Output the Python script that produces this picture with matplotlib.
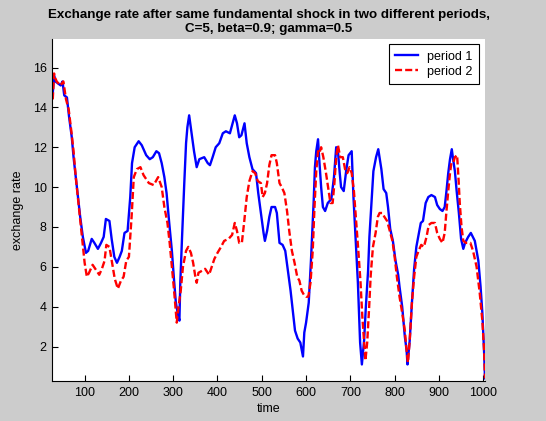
import matplotlib
matplotlib.use("Agg")
import matplotlib.pyplot as plt

# values
t_period1 = [28, 31, 34, 40, 46, 50, 54, 60, 65, 71, 75, 80, 84, 90, 96, 103, 108, 116, 122, 130,
             137, 143, 148, 156, 161, 167, 173, 179, 184, 190, 197, 203, 207, 213, 222, 229, 239, 247, 254, 262,
             268, 274, 280, 285, 291, 297, 302, 306, 310, 314, 316, 320, 325, 329, 332, 336, 341, 347, 353, 359,
             370, 378, 383, 389, 396, 404, 412, 419, 428, 434, 439, 444, 449, 454, 461, 466, 472, 479, 487, 492,
             498, 504, 507, 512, 517, 522, 530, 534, 540, 547, 553, 559, 565, 570, 575, 581, 587, 593, 596, 600,
             606, 611, 617, 620, 623, 627, 630, 634, 638, 643, 649, 657, 663, 668, 672, 676, 679, 685, 691, 696,
             703, 707, 712, 717, 722, 726, 731, 735, 740, 743, 747, 752, 758, 763, 770, 775, 781, 785, 790, 796,
             802, 808, 811, 817, 823, 827, 829, 834, 839, 844, 849, 854, 859, 864, 870, 876, 883, 891, 896, 902,
             908, 913, 917, 921, 925, 929, 932, 936, 940, 945, 950, 955, 959, 966, 972, 981, 989, 994, 998, 1002,
             1004]
period1 = [14.7, 15.6, 15.3, 15.2, 15.1, 15.3, 14.6, 14.5, 13.5, 12.5, 11.5, 10.5, 9.7, 8.5, 7.5, 6.7, 6.8, 7.4, 7.2, 6.9,
           7.2, 7.5, 8.4, 8.3, 7.4, 6.5, 6.2, 6.5, 6.8, 7.7, 7.8, 9.5, 11.2, 12.0, 12.3, 12.1, 11.6, 11.4, 11.5, 11.8,
           11.7, 11.2, 10.5, 9.7, 8.2, 6.8, 5.3, 4.2, 3.7, 3.3, 5.2, 7.5, 10.2, 12.2, 13.0, 13.6, 12.8, 11.8, 11.0, 11.4,
           11.5, 11.2, 11.1, 11.5, 12.0, 12.2, 12.7, 12.8, 12.7, 13.2, 13.6, 13.2, 12.5, 12.6, 13.2, 12.2, 11.5, 10.9, 10.7, 9.7,
           8.7, 7.7, 7.3, 7.8, 8.5, 9.0, 9.0, 8.7, 7.2, 7.1, 6.8, 5.8, 4.8, 3.8, 2.8, 2.4, 2.2, 1.5, 2.7, 3.2,
           4.2, 6.3, 9.2, 11.0, 11.8, 12.4, 11.3, 10.0, 9.0, 8.8, 9.2, 9.4, 10.5, 12.0, 11.8, 10.7, 10.0, 9.8, 10.9, 11.6,
           11.8, 9.5, 7.3, 5.2, 2.2, 1.1, 2.3, 4.0, 5.8, 7.5, 9.0, 10.8, 11.5, 11.9, 10.9, 9.9, 9.7, 9.0, 7.9, 7.3,
           6.3, 5.6, 5.0, 4.0, 2.5, 1.8, 1.1, 2.3, 4.2, 5.9, 7.0, 7.6, 8.2, 8.3, 9.2, 9.5, 9.6, 9.5, 9.1, 8.9,
           8.8, 9.0, 9.8, 10.7, 11.4, 11.9, 11.4, 10.8, 9.8, 8.7, 7.4, 6.9, 7.2, 7.5, 7.7, 7.3, 6.3, 5.0, 3.7, 1.7,
           0.4]

t_period2 = [28, 31, 33, 37, 45, 52, 58, 64, 70, 75, 80, 87, 94, 100, 105, 110, 118, 124, 133, 139,
             145, 149, 156, 162, 168, 175, 182, 188, 194, 200, 206, 211, 218, 226, 233, 245, 256, 266, 274, 280,
             287, 292, 297, 302, 306, 308, 312, 317, 322, 329, 334, 340, 345, 350, 353, 357, 365, 372, 381, 387,
             393, 400, 408, 415, 425, 433, 439, 444, 449, 455, 460, 466, 472, 479, 485, 491, 498, 502, 507, 512,
             517, 522, 530, 534, 540, 545, 551, 557, 562, 568, 574, 580, 585, 590, 595, 600, 605, 610, 615, 619,
             623, 627, 630, 634, 639, 645, 651, 655, 660, 664, 668, 672, 677, 683, 688, 693, 698, 703, 708, 713,
             718, 723, 727, 731, 734, 738, 742, 746, 751, 757, 762, 766, 772, 777, 783, 789, 795, 800, 805, 811,
             817, 823, 827, 830, 834, 839, 844, 849, 854, 860, 866, 872, 877, 883, 891, 896, 902, 908, 913, 917,
             921, 925, 928, 932, 936, 941, 944, 947, 951, 955, 961, 966, 971, 977, 985, 992, 998, 1002, 1004]
period2 = [14.4, 15.7, 15.5, 15.3, 15.1, 15.3, 14.4, 13.9, 12.8, 11.8, 10.5, 9.0, 7.5, 6.2, 5.5, 5.7, 6.1, 5.9, 5.6, 5.9,
           6.3, 7.1, 7.0, 6.2, 5.4, 4.9, 5.3, 5.5, 6.3, 6.5, 8.5, 10.5, 10.9, 11.0, 10.6, 10.2, 10.1, 10.5, 10.0, 9.0,
           8.2, 7.2, 6.0, 4.8, 3.7, 3.2, 4.0, 4.8, 6.0, 6.8, 7.0, 6.7, 6.2, 5.5, 5.2, 5.7, 5.8, 5.9, 5.6, 6.0,
           6.4, 6.7, 7.0, 7.3, 7.4, 7.6, 8.2, 7.8, 7.2, 7.2, 8.2, 9.5, 10.3, 10.8, 10.7, 10.3, 10.2, 9.5, 9.7, 10.2,
           11.1, 11.6, 11.6, 11.2, 10.2, 10.0, 9.7, 8.8, 7.8, 6.8, 6.2, 5.5, 5.3, 4.8, 4.6, 4.5, 4.5, 5.2, 6.8, 9.0,
           10.8, 11.8, 11.7, 12.0, 11.5, 10.7, 9.8, 9.2, 9.2, 10.2, 11.5, 12.1, 11.5, 11.5, 10.9, 10.7, 11.0, 10.7, 9.8, 8.3,
           6.8, 5.2, 3.5, 2.2, 1.3, 2.2, 3.8, 5.6, 7.0, 7.7, 8.5, 8.7, 8.7, 8.5, 8.3, 7.8, 7.3, 6.5, 5.5, 4.5,
           3.7, 2.8, 1.8, 1.2, 2.3, 4.2, 5.5, 6.5, 6.8, 7.1, 7.0, 7.5, 8.1, 8.2, 8.2, 7.7, 7.4, 7.2, 7.7, 8.8,
           9.8, 10.7, 11.2, 11.2, 11.5, 11.6, 10.5, 9.2, 8.0, 7.3, 7.2, 7.2, 7.2, 6.8, 6.0, 4.7, 3.3, 1.8, 0.4]

x_ticks = [100, 200, 300, 400, 500, 600, 700, 800, 900, 1000]
y_ticks = [2, 4, 6, 8, 10, 12, 14, 16]

plt.rcParams['font.family'] = ['Liberation Sans', 'DejaVu Sans']

W, H = 546, 421
fig = plt.figure(figsize=(W / 100, H / 100), dpi=100, facecolor='#cccccc')
ax = fig.add_axes([52.3 / W, 40 / H, (485 - 52.3) / W, (381 - 39) / H])
ax.set_facecolor('white')

ax.plot(t_period1, period1, color='#0000ff', lw=1.7, label='period 1')
ax.plot(t_period2, period2, color='#ff0000', lw=1.7, dashes=(3, 1.3), label='period 2')

ax.set_xlim(27, 1004)
ax.set_ylim(0.27, 17.43)
ax.set_xticks(x_ticks)
ax.set_yticks(y_ticks)
ax.spines['top'].set_visible(False)
ax.spines['right'].set_visible(False)
ax.tick_params(direction='in', length=4, labelsize=9, colors='black', pad=4)

# two-line bold title like the MATLAB figure
ax.set_title('Exchange rate after same fundamental shock in two different periods,\nC=5, beta=0.9; gamma=0.5',
             fontsize=9.6, fontweight='bold', pad=5, linespacing=1.25)
ax.set_xlabel('time', fontsize=9, labelpad=3)
ax.set_ylabel('exchange rate', fontsize=9, labelpad=6)

leg = ax.legend(loc='upper right', bbox_to_anchor=(478.7 / W, 1 - 44.3 / H),
                bbox_transform=fig.transFigure, borderaxespad=0, fancybox=False,
                edgecolor='black', framealpha=1, fontsize=9, handlelength=1.8,
                handletextpad=0.75, labelspacing=0.25, borderpad=0.5)
leg.get_frame().set_linewidth(0.8)

fig.savefig('out.png', dpi=100, facecolor=fig.get_facecolor())
